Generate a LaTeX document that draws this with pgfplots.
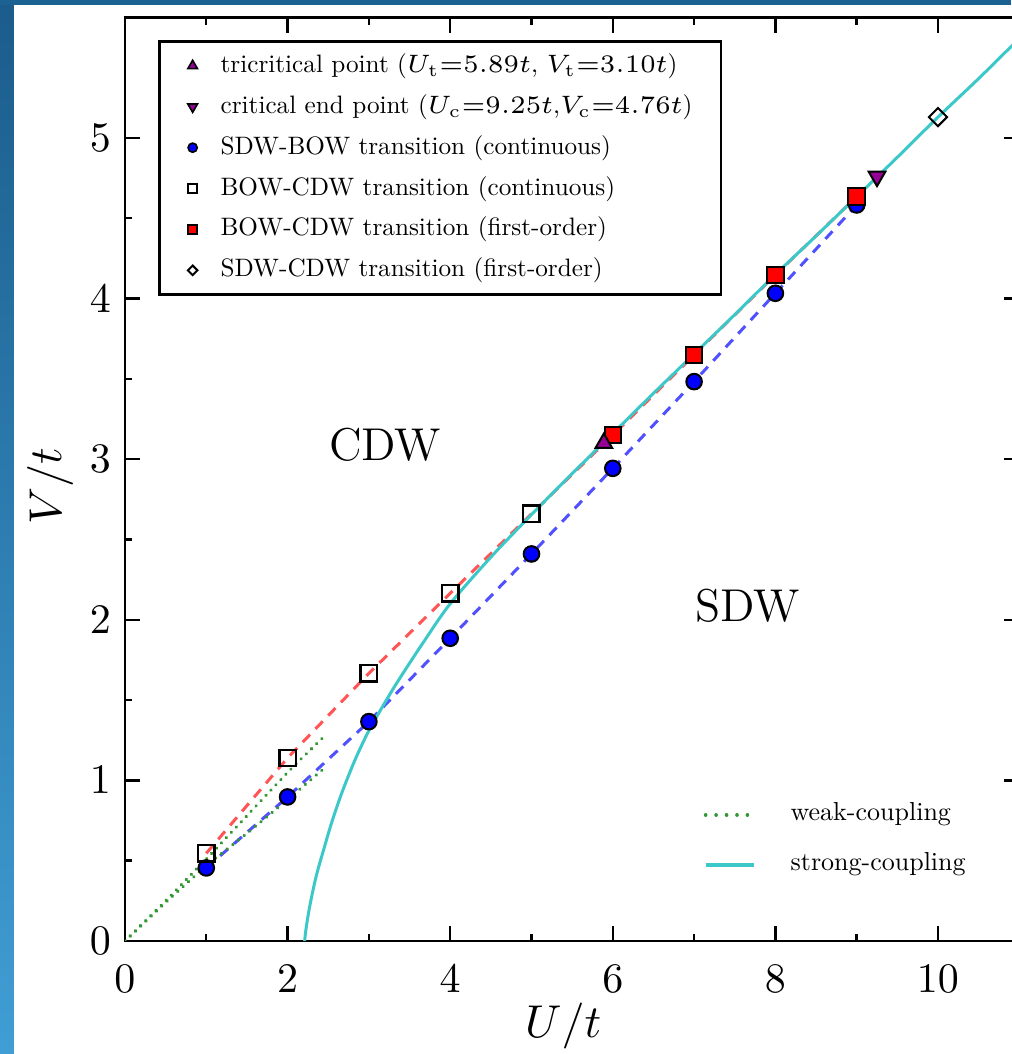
\RequirePackage{fix-cm}
\documentclass[border=0pt]{standalone}
\usepackage{fontspec}
\usepackage{pgfplots}
\pgfplotsset{compat=1.18}
\newfontfamily\legfont{lmroman10-regular}[Extension=.otf]
\definecolor{purp}{RGB}{150,0,150}
\definecolor{cyanline}{RGB}{60,200,200}
\definecolor{greendot}{RGB}{50,150,50}
\definecolor{reddash}{RGB}{255,85,85}
\definecolor{bluedash}{RGB}{80,80,255}
\definecolor{bgtop}{RGB}{27,98,146}
\definecolor{bgstripA}{RGB}{27,92,140}
\definecolor{bgstripB}{RGB}{64,158,212}
\begin{document}
\begin{tikzpicture}
% slide background
\fill[white] (-31.25pt,-28.25pt) rectangle (221.5pt,235.25pt);
\shade[top color=bgstripA, bottom color=bgstripB] (-31.25pt,-28.25pt) rectangle (-27.75pt,235.25pt);
\fill[bgtop] (-31.25pt,234pt) rectangle (221.5pt,235.25pt);
\begin{axis}[
  at={(0pt,0pt)}, anchor=south west,
  x=20.325pt, y=40.15pt,
  xmin=0, xmax=11, ymin=0, ymax=5.75,
  axis line style={line width=0.7pt, black},
  xtick={0,2,4,6,8,10}, minor x tick num=1,
  ytick={0,1,2,3,4,5}, minor y tick num=1,
  tick align=inside,
  major tick length=3.75pt, minor tick length=1.75pt,
  every tick/.style={black, line width=0.6pt},
  ticklabel style={font=\fontsize{10.5}{12}\selectfont},
  xticklabel style={yshift=-2.5pt},
  xlabel={$U/t$}, ylabel={$V/t$},
  label style={font=\fontsize{11.5}{13}\selectfont},
  xlabel style={at={(axis description cs:0.49,-0.105)}, anchor=base},
  ylabel style={at={(axis description cs:-0.0838,0.492)}, anchor=center},
  legend image code/.code={\path[draw=none,fill=none] (-0.4pt,-1pt) rectangle (3pt,1pt); \draw[#1, only marks] plot coordinates {(0pt,0pt)};},
  legend style={at={(axis cs:0.406,5.61)}, anchor=north west, draw=black, line width=0.7pt, fill=white,
    inner xsep=7.1pt, inner ysep=3.0pt, row sep=4.0pt,
    font=\legfont\fontsize{6.3}{7.5}\selectfont, nodes={inner sep=0pt},
    /tikz/every odd column/.style={column sep=4pt}},
  legend cell align=left,
]
% legend images
\addlegendimage{only marks, mark=triangle*, mark size=1.4pt, mark options={fill=purp, draw=black, line width=0.4pt}}
\addlegendimage{only marks, mark=triangle*, mark size=1.4pt, mark options={fill=purp, draw=black, line width=0.4pt, rotate=180}}
\addlegendimage{only marks, mark=*, mark size=1.15pt, mark options={fill=blue, draw=black, line width=0.4pt}}
\addlegendimage{only marks, mark=square, mark size=1.1pt, mark options={draw=black, line width=0.5pt}}
\addlegendimage{only marks, mark=square*, mark size=1.1pt, mark options={fill=red, draw=black, line width=0.4pt}}
\addlegendimage{only marks, mark=square, mark size=0.85pt, mark options={draw=black, line width=0.5pt, rotate=45}}
\legend{{tricritical point ($U_{\mathrm{t}}{=}5.89t$, $V_{\mathrm{t}}{=}3.10t$)},
        {critical end point ($U_{\mathrm{c}}{=}9.25t$,$V_{\mathrm{c}}{=}4.76t$)},
        {SDW-BOW transition (continuous)},
        {BOW-CDW transition (continuous)},
        {BOW-CDW transition (first-order)},
        {SDW-CDW transition (first-order)}}
% dashed guide lines
\addplot[forget plot, reddash, line width=0.75pt, dash pattern=on 2.6pt off 2pt] coordinates {
 (1,0.546) (2,1.14) (3,1.667) (4,2.165) (5,2.66) (6,3.15) (7,3.649) (8,4.147) (9,4.635)};
\addplot[forget plot, bluedash, line width=0.75pt, dash pattern=on 2.6pt off 2pt] coordinates {
 (1,0.455) (2,0.897) (3,1.366) (4,1.885) (5,2.41) (6,2.943) (7,3.483) (8,4.033) (9,4.583)};
% weak coupling
\addplot[forget plot, greendot, line width=0.9pt, dash pattern=on 0.01pt off 1.8pt, line cap=round] coordinates {
 (0,0) (0.5,0.25) (1,0.51) (1.5,0.78) (2,1.05) (2.46,1.28)};
\addplot[forget plot, greendot, line width=0.9pt, dash pattern=on 0.01pt off 1.8pt, line cap=round] coordinates {
 (0,0) (0.5,0.24) (1,0.47) (1.5,0.67) (2,0.88) (2.46,1.08)};
% markers
\addplot[forget plot, only marks, mark=*, mark size=1.95pt, mark options={fill=blue, draw=black, line width=0.5pt}] coordinates {
 (1,0.455) (2,0.897) (3,1.366) (4,1.885) (5,2.41) (6,2.943) (7,3.483) (8,4.033) (9,4.583)};
\addplot[forget plot, only marks, mark=square, mark size=2.05pt, mark options={draw=black, line width=0.6pt}] coordinates {
 (1,0.546) (2,1.14) (3,1.667) (4,2.165) (5,2.66)};
\addplot[forget plot, only marks, mark=square*, mark size=2.05pt, mark options={fill=red, draw=black, line width=0.5pt}] coordinates {
 (6,3.15) (7,3.649) (8,4.147) (9,4.635)};
\addplot[forget plot, only marks, mark=triangle*, mark size=2.4pt, mark options={fill=purp, draw=black, line width=0.5pt}] coordinates {
 (5.89,3.10)};
\addplot[forget plot, only marks, mark=triangle*, mark size=2.4pt, mark options={fill=purp, draw=black, line width=0.5pt, rotate=180}] coordinates {
 (9.25,4.76)};
\addplot[forget plot, only marks, mark=square, mark size=1.6pt, mark options={draw=black, line width=0.5pt, rotate=45}] coordinates {
 (10,5.13)};
% strong coupling
\addplot[forget plot, cyanline, line width=0.75pt, smooth] coordinates {
 (2.21,0) (2.22,0.05) (2.24,0.12) (2.27,0.21) (2.31,0.31) (2.36,0.42) (2.45,0.58)
 (2.55,0.75) (2.68,0.94) (2.84,1.14) (3.00,1.31) (3.18,1.47) (3.36,1.62) (3.67,1.86)
 (4.00,2.10) (4.50,2.39) (5.00,2.655) (5.50,2.91) (5.90,3.11) (6.50,3.41) (7.00,3.655)
 (7.50,3.90) (8.00,4.15) (8.50,4.39) (9.00,4.635) (9.50,4.88) (10.00,5.13) (10.50,5.37) (11.00,5.62)};
\node[font=\fontsize{11.5}{13}\selectfont] at (axis cs:3.2,3.09) {CDW};
\node[font=\fontsize{11.5}{13}\selectfont] at (axis cs:7.66,2.09) {SDW};
\end{axis}
% second legend
\begin{axis}[
  at={(0pt,0pt)}, anchor=south west,
  x=20.325pt, y=40.15pt,
  xmin=0, xmax=11, ymin=0, ymax=5.75,
  hide axis,
  legend image code/.code={\draw[#1] (0pt,0pt) -- (12pt,0pt);},
  legend style={at={(axis cs:7.11,0.865)}, anchor=north west, draw=none, fill=none,
    inner sep=0pt, row sep=6.5pt,
    font=\legfont\fontsize{6.5}{7.8}\selectfont, nodes={inner sep=0pt},
    /tikz/every odd column/.style={column sep=8.8pt}},
  legend cell align=left,
]
\addlegendimage{greendot, line width=0.9pt, dash pattern=on 0.01pt off 2.6pt, line cap=round}
\addlegendimage{cyanline, line width=0.8pt}
\legend{weak-coupling, strong-coupling}
\end{axis}
\pgfresetboundingbox
\useasboundingbox (-31.25pt,-28.25pt) rectangle (221.5pt,235.25pt);
\end{tikzpicture}
\end{document}
